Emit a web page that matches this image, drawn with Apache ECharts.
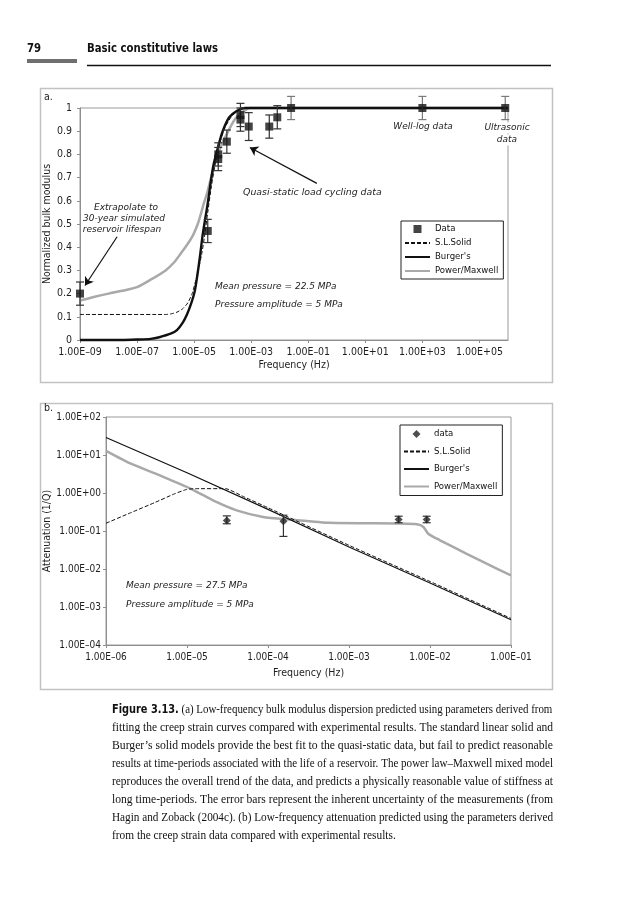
<!DOCTYPE html>
<html><head><meta charset="utf-8">
<script src="https://cdn.jsdelivr.net/npm/echarts@6/dist/echarts.min.js"></script>
<style>html,body{margin:0;padding:0;background:#fff}#c{width:633px;height:900px}</style>
</head><body><div id="c"></div>
<script>
// ---------------- DATA: chart (a) normalized bulk modulus ----------------
const aXTicks = [1e-9, 1e-7, 1e-5, 1e-3, 1e-1, 1e1, 1e3, 1e5];
const aYTicks = [0, 0.1, 0.2, 0.3, 0.4, 0.5, 0.6, 0.7, 0.8, 0.9, 1];

const aDataFreq  = [1e-9, 3e-5, 7e-5, 7e-5, 1.4e-4, 4.2e-4, 4.2e-4, 8.2e-4, 4.3e-3, 8.2e-3, 2.5e-2, 1e3, 8e5];
const aDataValue = [0.20, 0.47, 0.80, 0.78, 0.855, 0.97, 0.95, 0.92, 0.92, 0.96, 1.00, 1.00, 1.00];
const aDataLow   = [0.15, 0.42, 0.75, 0.73, 0.805, 0.92, 0.90, 0.86, 0.87, 0.91, 0.95, 0.95, 0.95];
const aDataHigh  = [0.25, 0.52, 0.85, 0.83, 0.905, 1.02, 1.00, 0.98, 0.97, 1.01, 1.05, 1.05, 1.05];

const aSLSFreq  = [1e-9, 1e-6, 1.6e-6, 2.5e-6, 4e-6, 6e-6, 8.5e-6, 1.1e-5, 1.45e-5, 1.9e-5, 2.4e-5, 3e-5, 4e-5, 5.5e-5, 8e-5, 1.2e-4, 2e-4, 3.2e-4, 6e-4, 1e6];
const aSLSValue = [0.11, 0.11, 0.113, 0.12, 0.135, 0.16, 0.2, 0.25, 0.31, 0.38, 0.46, 0.55, 0.66, 0.76, 0.85, 0.915, 0.962, 0.985, 1.0, 1.0];

const aBurgerFreq  = [1e-9, 3e-8, 1e-7, 3e-7, 6e-7, 1.5e-6, 2.5e-6, 4e-6, 5.6e-6, 8e-6, 1.05e-5, 1.3e-5, 1.6e-5, 2e-5, 2.5e-5, 3e-5, 4.6e-5, 7e-5, 1e-4, 1.7e-4, 3.2e-4, 6e-4, 1e6];
const aBurgerValue = [0, 0, 0.002, 0.005, 0.012, 0.027, 0.043, 0.075, 0.11, 0.16, 0.21, 0.28, 0.36, 0.455, 0.53, 0.59, 0.745, 0.835, 0.9, 0.96, 0.988, 1.0, 1.0];

const aPowerFreq  = [1e-9, 3e-9, 1e-8, 3e-8, 1e-7, 3e-7, 1e-6, 2e-6, 3.5e-6, 6e-6, 9e-6, 1.25e-5, 1.6e-5, 2.2e-5, 2.8e-5, 4.8e-5, 8.3e-5, 1.3e-4, 1.9e-4, 2.8e-4, 4.2e-4, 6e-4, 9e-4, 1e6];
const aPowerValue = [0.17, 0.185, 0.2, 0.212, 0.228, 0.26, 0.3, 0.335, 0.375, 0.415, 0.45, 0.49, 0.53, 0.59, 0.63, 0.74, 0.83, 0.88, 0.92, 0.955, 0.975, 0.99, 1.0, 1.0];

// ---------------- DATA: chart (b) attenuation ----------------
const bXTicks = [1e-6, 1e-5, 1e-4, 1e-3, 1e-2, 1e-1];
const bYTicks = [1e-4, 1e-3, 1e-2, 1e-1, 1e0, 1e1, 1e2];

const bDataFreq  = [3.1e-5, 1.55e-4, 4.1e-3, 9.1e-3];
const bDataValue = [0.19, 0.18, 0.20, 0.20];
const bDataLow   = [0.155, 0.072, 0.165, 0.165];
const bDataHigh  = [0.25, 0.26, 0.245, 0.245];

const bSLSFreq  = [1e-6, 2e-6, 4e-6, 7e-6, 1e-5, 1.3e-5, 3e-5, 5e-5, 1e-4, 1e-3, 1e-2, 1e-1];
const bSLSValue = [0.16, 0.3, 0.56, 0.95, 1.25, 1.3, 1.3, 0.8, 0.41, 0.042, 0.0047, 0.0005];

const bBurgerFreq  = [1e-6, 1e-5, 1e-4, 1e-3, 1e-2, 1e-1];
const bBurgerValue = [29, 3.4, 0.37, 0.038, 0.0043, 0.00046];

const bPowerFreq  = [1e-6, 2e-6, 5e-6, 1.1e-5, 2.3e-5, 4.1e-5, 8.7e-5, 1.9e-4, 5.8e-4, 4.3e-3, 6.9e-3, 8.3e-3, 9.5e-3, 1.33e-2, 2.8e-2, 5e-2, 1e-1];
const bPowerValue = [12.9, 6.0, 2.7, 1.31, 0.58, 0.35, 0.234, 0.2, 0.164, 0.157, 0.15, 0.128, 0.085, 0.057, 0.0254, 0.0138, 0.0068];

// ---------------- TEXT ----------------
const legendLabels = {
  aData: 'Data', aSLS: 'S.L.Solid', aBurger: "Burger's", aPower: 'Power/Maxwell',
  bData: 'data', bSLS: 'S.L.Solid', bBurger: "Burger's", bPower: 'Power/Maxwell'
};
const captionBold = "Figure 3.13.";
const captionLines = [
  "(a) Low-frequency bulk modulus dispersion predicted using parameters derived from",
  "fitting the creep strain curves compared with experimental results. The standard linear solid and",
  "Burger’s solid models provide the best fit to the quasi-static data, but fail to predict reasonable",
  "results at time-periods associated with the life of a reservoir. The power law–Maxwell mixed model",
  "reproduces the overall trend of the data, and predicts a physically reasonable value of stiffness at",
  "long time-periods. The error bars represent the inherent uncertainty of the measurements (from",
  "Hagin and Zoback (2004c). (b) Low-frequency attenuation predicted using the parameters derived",
  "from the creep strain data compared with experimental results."
];

// ---------------- helpers ----------------
const NARROW = "'Liberation Sans Narrow','DejaVu Sans Condensed','Liberation Sans',Arial,sans-serif";
const OBL = "'DejaVu Sans','Liberation Sans',sans-serif";
const SERIF = "'Liberation Serif','Times New Roman',serif";
const zip = (xs, ys) => xs.map((x, i) => [x, ys[i]]);
const zip3 = (xs, a, b) => xs.map((x, i) => [x, a[i], b[i]]);
function sciLabel(v) {
  const e = Math.round(Math.log10(v));
  const a = Math.abs(e);
  return '1.00E' + (e < 0 ? '\u2013' : '+') + (a < 10 ? '0' : '') + a;
}
// error bars; bars of the high-frequency (well-log / ultrasonic) group drawn lighter
function errorBars(capHalf, color, lightAbove, lightColor) {
  return function (params, api) {
    const x = api.value(0), lo = api.value(1), hi = api.value(2);
    const p1 = api.coord([x, lo]), p2 = api.coord([x, hi]);
    const c = (lightAbove != null && x > lightAbove) ? lightColor : color;
    const st = { stroke: c, lineWidth: 1.2, fill: null };
    return { type: 'group', children: [
      { type: 'line', shape: { x1: p1[0], y1: p1[1], x2: p2[0], y2: p2[1] }, style: st },
      { type: 'line', shape: { x1: p1[0] - capHalf, y1: p1[1], x2: p1[0] + capHalf, y2: p1[1] }, style: st },
      { type: 'line', shape: { x1: p2[0] - capHalf, y1: p2[1], x2: p2[0] + capHalf, y2: p2[1] }, style: st }
    ]};
  };
}
const axisGray = '#8e8e8e';
const labelColor = '#1e1e1e';
const clearItem = { color: 'rgba(0,0,0,0)', borderColor: 'rgba(0,0,0,0)', borderWidth: 0 };

function logAxis(grid, min, max, ticks, name, nameGap, fs, vertical) {
  return {
    type: 'log', logBase: 10, gridIndex: grid, min: min, max: max,
    axisLine: { show: true, onZero: false, lineStyle: { color: axisGray, width: 1 } },
    axisTick: { show: true, length: 3, customValues: ticks, lineStyle: { color: axisGray } },
    axisLabel: { customValues: ticks, formatter: sciLabel, fontFamily: NARROW, fontSize: fs, color: labelColor, margin: vertical ? 5 : 7 },
    splitLine: { show: false }, minorTick: { show: false },
    name: name, nameLocation: 'middle', nameGap: nameGap, nameRotate: vertical ? 90 : 0, nameMoveOverlap: false,
    nameTextStyle: { fontFamily: NARROW, fontSize: 10.5, color: labelColor }
  };
}

// ---------------- caption (each line compressed to the justified width) ----------------
const mctx = document.createElement('canvas').getContext('2d');
function tw(text, font) { mctx.font = font; return mctx.measureText(text).width; }
const capLeft = 112, capRight = 553, capTop = 710, capStep = 17.9, capSize = 12.5;
const capWidth = capRight - capLeft;
const boldFontStr = 'bold ' + capSize + 'px ' + NARROW;
const serifFontStr = capSize + 'px ' + SERIF;
const naturals = captionLines.map((ln, i) => (i === 0 ? tw(captionBold + ' ', boldFontStr) : 0) + tw(ln, serifFontStr));
const scales = naturals.map(w => capWidth / w);
const avgScale = scales.slice(0, -1).reduce((a, b) => a + b, 0) / (scales.length - 1);
const captionGraphics = captionLines.map((ln, i) => {
  const last = i === captionLines.length - 1;
  const sx = Math.min(1, last ? avgScale : scales[i]);
  return {
    type: 'text', x: capLeft, y: capTop + i * capStep, scaleX: sx, silent: true,
    style: {
      text: i === 0 ? '{b|' + captionBold + '} ' + ln : ln,
      fontFamily: SERIF, fontSize: capSize, fill: '#111', verticalAlign: 'middle',
      rich: { b: { fontFamily: NARROW, fontWeight: 'bold', fontSize: capSize, fill: '#111' } }
    }
  };
});

function txt(x, y, text, opt) {
  opt = opt || {};
  return { type: 'text', x: x, y: y, z: 20, silent: true,
    style: Object.assign({ text: text, fontFamily: OBL, fontStyle: 'italic', fontSize: 9, fill: '#222',
      align: 'left', verticalAlign: 'middle' }, opt) };
}

const graphics = [
  // page header
  { type: 'text', x: 27, y: 49, scaleX: 0.9, silent: true, style: { text: '79', fontFamily: NARROW, fontWeight: 'bold', fontSize: 12.5, fill: '#111', verticalAlign: 'middle' } },
  { type: 'rect', silent: true, shape: { x: 27, y: 59, width: 50, height: 4 }, style: { fill: '#6f6f6f' } },
  { type: 'text', x: 87, y: 49, scaleX: 0.9, silent: true, style: { text: 'Basic constitutive laws', fontFamily: NARROW, fontWeight: 'bold', fontSize: 12.5, fill: '#111', verticalAlign: 'middle' } },
  { type: 'line', silent: true, shape: { x1: 87, y1: 65.5, x2: 551, y2: 65.5 }, style: { stroke: '#111', lineWidth: 1.6 } },
  // figure frames
  { type: 'rect', silent: true, z: -1, shape: { x: 40.5, y: 88.5, width: 512, height: 294 }, style: { fill: 'none', stroke: '#c2c2c2', lineWidth: 1.5 } },
  { type: 'rect', silent: true, z: -1, shape: { x: 40.5, y: 403.5, width: 512, height: 286 }, style: { fill: 'none', stroke: '#c2c2c2', lineWidth: 1.5 } },
  txt(44, 97, 'a.', { fontFamily: NARROW, fontStyle: 'normal', fontSize: 10.5 }),
  txt(44, 408, 'b.', { fontFamily: NARROW, fontStyle: 'normal', fontSize: 10.5 }),
  // chart (a) annotations
  txt(126, 208, 'Extrapolate to', { align: 'center' }),
  txt(124, 219, '30-year simulated', { align: 'center' }),
  txt(122, 230, 'reservoir lifespan', { align: 'center' }),
  txt(243, 193, 'Quasi-static load cycling data', { fontSize: 9.4 }),
  txt(423, 127, 'Well-log data', { align: 'center' }),
  txt(507, 128, 'Ultrasonic', { align: 'center', backgroundColor: '#fff', padding: [1, 1] }),
  txt(507, 140, 'data', { align: 'center', backgroundColor: '#fff', padding: [1, 1] }),
  txt(215, 287, 'Mean pressure = 22.5 MPa'),
  txt(215, 305, 'Pressure amplitude = 5 MPa'),
  // chart (b) annotations
  txt(126, 586, 'Mean pressure = 27.5 MPa'),
  txt(126, 605, 'Pressure amplitude = 5 MPa')
].concat(captionGraphics);

const legendCommon = {
  orient: 'vertical', selectedMode: false, formatter: (n) => legendLabels[n],
  itemWidth: 25, itemHeight: 8, borderColor: '#222', borderWidth: 1, backgroundColor: '#fff',
  textStyle: { fontFamily: NARROW, fontSize: 9.5, color: '#111' }, borderRadius: 0
};
const lineItem = (n) => ({ name: n, itemStyle: clearItem });

const chart = echarts.init(document.getElementById('c'), null, { renderer: 'canvas', width: 633, height: 900 });
chart.setOption({
  animation: false,
  backgroundColor: '#fff',
  grid: [
    { left: 80, top: 108, width: 428, height: 232, show: true, borderColor: '#9a9a9a', borderWidth: 1, backgroundColor: 'transparent', containLabel: false, outerBoundsMode: 'none' },
    { left: 106, top: 417, width: 405, height: 228, show: true, borderColor: '#9a9a9a', borderWidth: 1, backgroundColor: 'transparent', containLabel: false, outerBoundsMode: 'none' }
  ],
  xAxis: [
    logAxis(0, 1e-9, 1e6, aXTicks, 'Frequency (Hz)', 20, 10.5, false),
    logAxis(1, 1e-6, 1e-1, bXTicks, 'Frequency (Hz)', 23, 10, false)
  ],
  yAxis: [
    {
      type: 'value', gridIndex: 0, min: 0, max: 1, interval: 0.1,
      axisLine: { show: true, onZero: false, lineStyle: { color: axisGray } },
      axisTick: { show: true, length: 3, lineStyle: { color: axisGray } },
      axisLabel: { formatter: (v) => String(Math.round(v * 10) / 10), fontFamily: NARROW, fontSize: 10.5, color: labelColor, margin: 8 },
      splitLine: { show: false },
      name: 'Normalized bulk modulus', nameLocation: 'middle', nameGap: 27, nameRotate: 90, nameMoveOverlap: false,
      nameTextStyle: { fontFamily: NARROW, fontSize: 10.5, color: labelColor }
    },
    logAxis(1, 1e-4, 1e2, bYTicks, 'Attenuation (1/Q)', 53, 10, true)
  ],
  legend: [
    Object.assign({}, legendCommon, { left: 401, top: 221, itemGap: 4, padding: [3, 5, 3, 3],
      data: [{ name: 'aData', icon: 'path://M0,0L10,0L10,10L0,10Z' }, lineItem('aSLS'), lineItem('aBurger'), lineItem('aPower')] }),
    Object.assign({}, legendCommon, { left: 400, top: 425, itemGap: 7.5, padding: [4, 5, 4, 3],
      data: [{ name: 'bData', icon: 'path://M5,0L10,5L5,10L0,5Z' }, lineItem('bSLS'), lineItem('bBurger'), lineItem('bPower')] })
  ],
  graphic: graphics,
  series: [
    // ---- chart (a)
    { name: 'aPower', type: 'line', xAxisIndex: 0, yAxisIndex: 0, data: zip(aPowerFreq, aPowerValue), symbol: 'none', smooth: 0.25, clip: false,
      lineStyle: { color: '#a9a9a9', width: 2.5 }, itemStyle: clearItem, z: 2 },
    { name: 'aBurger', type: 'line', xAxisIndex: 0, yAxisIndex: 0, data: zip(aBurgerFreq, aBurgerValue), symbol: 'none', smooth: 0.25, clip: false,
      lineStyle: { color: '#111', width: 2.4 }, itemStyle: clearItem, z: 3,
      markLine: { silent: true, symbol: ['none', 'arrow'], symbolSize: 8, label: { show: false },
        lineStyle: { color: '#111', width: 1.2, type: 'solid' },
        data: [
          [{ coord: [2e-8, 0.445] }, { coord: [1.5e-9, 0.235] }],
          [{ coord: [0.2, 0.675] }, { coord: [9e-4, 0.83] }]
        ] } },
    { name: 'aSLS', type: 'line', xAxisIndex: 0, yAxisIndex: 0, data: zip(aSLSFreq, aSLSValue), symbol: 'none', smooth: 0.2, clip: false,
      lineStyle: { color: '#111', width: 1, type: [4, 2] }, itemStyle: clearItem, z: 4 },
    { name: 'aErr', type: 'custom', xAxisIndex: 0, yAxisIndex: 0, data: zip3(aDataFreq, aDataLow, aDataHigh),
      encode: { x: 0, y: [1, 2] }, renderItem: errorBars(4, '#333', 1e-2, '#7a7a7a'), clip: false, z: 5 },
    { name: 'aData', type: 'scatter', xAxisIndex: 0, yAxisIndex: 0, data: zip(aDataFreq, aDataValue), symbol: 'rect', symbolSize: 8,
      itemStyle: { color: '#151515' }, clip: false, z: 6 },
    // ---- chart (b)
    { name: 'bPower', type: 'line', xAxisIndex: 1, yAxisIndex: 1, data: zip(bPowerFreq, bPowerValue), symbol: 'none', smooth: 0.2, clip: false,
      lineStyle: { color: '#a9a9a9', width: 2.5 }, itemStyle: clearItem, z: 2 },
    { name: 'bBurger', type: 'line', xAxisIndex: 1, yAxisIndex: 1, data: zip(bBurgerFreq, bBurgerValue), symbol: 'none', clip: false,
      lineStyle: { color: '#111', width: 1.2 }, itemStyle: clearItem, z: 3 },
    { name: 'bSLS', type: 'line', xAxisIndex: 1, yAxisIndex: 1, data: zip(bSLSFreq, bSLSValue), symbol: 'none', smooth: 0.15, clip: false,
      lineStyle: { color: '#111', width: 1, type: [4, 2] }, itemStyle: clearItem, z: 4 },
    { name: 'bErr', type: 'custom', xAxisIndex: 1, yAxisIndex: 1, data: zip3(bDataFreq, bDataLow, bDataHigh),
      encode: { x: 0, y: [1, 2] }, renderItem: errorBars(4, '#333'), clip: false, z: 5 },
    { name: 'bData', type: 'scatter', xAxisIndex: 1, yAxisIndex: 1, data: zip(bDataFreq, bDataValue), symbol: 'diamond', symbolSize: 8,
      itemStyle: { color: '#222' }, clip: false, z: 6 }
  ]
});
</script>
</body></html>
